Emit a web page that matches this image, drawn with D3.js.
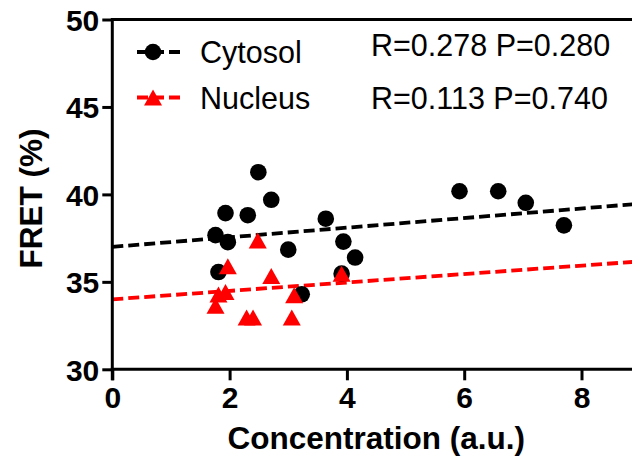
<!DOCTYPE html>
<html>
<head>
<meta charset="utf-8">
<script src="https://cdn.jsdelivr.net/npm/d3@7"></script>
<style>
  html, body { margin: 0; padding: 0; background: #fff; }
  svg { display: block; }
  text { font-family: "Liberation Sans", Arial, sans-serif; }
</style>
</head>
<body>
<svg id="chart" width="632" height="463"></svg>
<script>
// ---- data ----
const cytosolX = [2.49, 2.71, 1.93, 2.31, 3.64, 1.76, 1.97, 3.00, 3.94, 4.14, 1.81, 3.91, 3.23, 5.92, 6.58, 7.05, 7.70];
const cytosolY = [41.27, 39.69, 38.93, 38.81, 38.61, 37.67, 37.27, 36.84, 37.30, 36.39, 35.56, 35.47, 34.29, 40.18, 40.18, 39.52, 38.23];
const nucleusX = [2.48, 1.97, 2.71, 3.91, 1.93, 1.81, 3.10, 1.76, 2.29, 2.40, 3.06];
const nucleusY = [37.37, 35.89, 35.34, 35.47, 34.42, 34.28, 34.24, 33.63, 32.96, 32.96, 32.96];
const fitX = [0, 9];
const cytosolFit = [37.0, 39.47];
const nucleusFit = [34.0, 36.17];
const xTicks = [0, 2, 4, 6, 8];
const yTicks = [30, 35, 40, 45, 50];
const seriesNames = ["Cytosol", "Nucleus"];
const statLabels = ["R=0.278 P=0.280", "R=0.113 P=0.740"];
const xTitle = "Concentration (a.u.)";
const yTitle = "FRET (%)";

// ---- layout ----
const svg = d3.select("#chart");
const x = d3.scaleLinear().domain([0, 9]).range([112.3, 112.3 + 9 * 58.65]);
const y = d3.scaleLinear().domain([30, 50]).range([369.3, 19.5]);
const AX = 3;

// regression lines
const line = d3.line().x(d => x(d[0])).y(d => y(d[1]));
const fits = [
  { vals: cytosolFit, color: "#000" },
  { vals: nucleusFit, color: "#ff0000" }
];
fits.forEach(f => {
  svg.append("path")
    .datum(fitX.map((v, i) => [v, f.vals[i]]))
    .attr("d", line)
    .attr("fill", "none")
    .attr("stroke", f.color)
    .attr("stroke-width", 3.8)
    .attr("stroke-dasharray", "11,5");
});

// points
svg.append("g").selectAll("circle")
  .data(cytosolX.map((v, i) => [v, cytosolY[i]]))
  .join("circle")
  .attr("cx", d => x(d[0]))
  .attr("cy", d => y(d[1]))
  .attr("r", 8.3)
  .attr("fill", "#000");

const tri = "M0,-8L9,8L-9,8Z";
svg.append("g").selectAll("path")
  .data(nucleusX.map((v, i) => [v, nucleusY[i]]))
  .join("path")
  .attr("d", tri)
  .attr("transform", d => `translate(${x(d[0])},${y(d[1])})`)
  .attr("fill", "#ff0000");

// axes
const xAxis = svg.append("g")
  .attr("transform", `translate(0,${y(30)})`)
  .call(d3.axisBottom(x).tickValues(xTicks).tickSize(11).tickPadding(6).tickFormat(d3.format("d")));
const yAxis = svg.append("g")
  .attr("transform", `translate(${x(0)},0)`)
  .call(d3.axisLeft(y).tickValues(yTicks).tickSize(10).tickPadding(3).tickFormat(d3.format("d")));
[xAxis, yAxis].forEach(g => {
  g.selectAll(".tick line").attr("stroke", "#000").attr("stroke-width", AX);
  g.selectAll(".tick text")
    .attr("fill", "#000")
    .style("font-family", "'Liberation Sans', Arial, sans-serif")
    .style("font-weight", "bold")
    .style("font-size", "30px");
});
xAxis.select(".domain").remove();
yAxis.select(".domain").remove();
xAxis.selectAll(".tick text").attr("dy", "0.71em");
yAxis.selectAll(".tick text").attr("dy", "0.36em");

// frame lines (bottom, top, left)
svg.append("line").attr("x1", x(0) - AX / 2).attr("x2", x(9)).attr("y1", y(30)).attr("y2", y(30))
  .attr("stroke", "#000").attr("stroke-width", AX);
svg.append("line").attr("x1", x(0) - AX / 2).attr("x2", x(9)).attr("y1", y(50)).attr("y2", y(50))
  .attr("stroke", "#000").attr("stroke-width", AX);
svg.append("line").attr("x1", x(0)).attr("x2", x(0)).attr("y1", y(50)).attr("y2", y(30) + 11)
  .attr("stroke", "#000").attr("stroke-width", AX);

// axis titles
svg.append("text")
  .attr("x", (x(0) + x(9)) / 2)
  .attr("y", 449)
  .attr("text-anchor", "middle")
  .style("font-weight", "bold")
  .style("font-size", "31.5px")
  .text(xTitle);
svg.append("text")
  .attr("transform", `translate(42,${(y(30) + y(50)) / 2 + 4}) rotate(-90)`)
  .attr("text-anchor", "middle")
  .style("font-weight", "bold")
  .style("font-size", "31.5px")
  .text(yTitle);

// legend
const legY = [52, 97.5];
const legColors = ["#000", "#ff0000"];
seriesNames.forEach((name, i) => {
  svg.append("line")
    .attr("x1", 137).attr("x2", 180)
    .attr("y1", legY[i]).attr("y2", legY[i])
    .attr("stroke", legColors[i])
    .attr("stroke-width", 3.8)
    .attr("stroke-dasharray", "11,5");
  if (i === 0) {
    svg.append("circle").attr("cx", 153).attr("cy", legY[i]).attr("r", 8.3).attr("fill", legColors[i]);
  } else {
    svg.append("path").attr("d", tri).attr("transform", `translate(153,${legY[i]})`).attr("fill", legColors[i]);
  }
  svg.append("text")
    .attr("x", 200)
    .attr("y", legY[i] + 11)
    .style("font-size", "30.5px")
    .attr("fill", "#000")
    .text(name);
});
statLabels.forEach((s, i) => {
  svg.append("text")
    .attr("x", 371)
    .attr("y", [56, 109][i])
    .style("font-size", "30.5px")
    .attr("fill", "#000")
    .text(s);
});
</script>
</body>
</html>
